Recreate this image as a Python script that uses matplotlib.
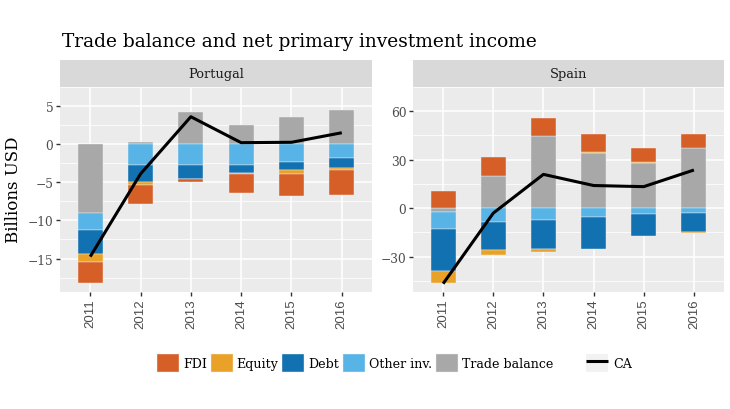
import numpy as np
import matplotlib
matplotlib.use("Agg")
import matplotlib.pyplot as plt
from matplotlib.patches import Patch, Rectangle
from matplotlib.lines import Line2D
from matplotlib.legend_handler import HandlerLine2D

# ---- data (billions USD) ----
years = ["2011", "2012", "2013", "2014", "2015", "2016"]
countries = ["Portugal", "Spain"]
components = ["FDI", "Equity", "Debt", "Other inv.", "Trade balance"]

pt_fdi = [-2.8, -2.5, -0.4, -2.5, -3.0, -3.3]
pt_equity = [-1.05, -0.35, -0.05, -0.15, -0.5, -0.3]
pt_debt = [-3.2, -2.25, -1.85, -1.0, -1.0, -1.25]
pt_other = [-2.2, -2.7, -2.7, -2.75, -2.35, -1.85]
pt_trade = [-9.0, 0.25, 4.25, 2.55, 3.5, 4.5]
pt_ca = [-14.75, -3.9, 3.6, 0.2, 0.25, 1.5]

es_fdi = [10.7, 12.0, 11.4, 11.1, 8.9, 8.5]
es_equity = [-7.4, -2.8, -1.5, 0.7, 0.5, -0.9]
es_debt = [-26.2, -17.7, -17.9, -19.6, -13.8, -11.5]
es_other = [-10.7, -8.5, -7.6, -5.7, -3.7, -3.3]
es_trade = [-2.2, 19.9, 44.5, 34.0, 27.9, 37.3]
es_ca = [-46.8, -3.1, 20.9, 14.0, 13.3, 23.6]

pt_ticks = [-15, -10, -5, 0, 5]
es_ticks = [-30, 0, 30, 60]

COLORS = {"FDI": "#D65F27", "Equity": "#E9A227", "Debt": "#1271B0",
          "Other inv.": "#58B4E6", "Trade balance": "#A8A8A8"}
SERIF = "DejaVu Serif"
SANS = "Liberation Sans"

panels = {
    "Portugal": dict(FDI=pt_fdi, Equity=pt_equity, Debt=pt_debt,
                     other=pt_other, trade=pt_trade, ca=pt_ca, ticks=pt_ticks),
    "Spain": dict(FDI=es_fdi, Equity=es_equity, Debt=es_debt,
                  other=es_other, trade=es_trade, ca=es_ca, ticks=es_ticks),
}


class KeyLine(HandlerLine2D):
    # ggplot-style line key: grey square behind the line
    def create_artists(self, legend, orig, xd, yd, width, height, fontsize, trans):
        bg = Rectangle((-xd, -yd), width, height, facecolor="#F2F2F2",
                       edgecolor="none", transform=trans)
        arts = super().create_artists(legend, orig, xd, yd, width, height, fontsize, trans)
        return [bg] + list(arts)


W, H = 730, 410
fig = plt.figure(figsize=(W / 100, H / 100), dpi=100)
fig.patch.set_facecolor("white")


def frac_box(x0, y0, x1, y1):
    # pixel box (top-left origin) -> figure fraction rect
    return [x0 / W, 1 - y1 / H, (x1 - x0) / W, (y1 - y0) / H]


boxes = {"Portugal": (60, 88, 372, 293), "Spain": (413, 88, 724, 293)}

for name in countries:
    d = panels[name]
    series = {"FDI": d["FDI"], "Equity": d["Equity"], "Debt": d["Debt"],
              "Other inv.": d["other"], "Trade balance": d["trade"]}
    x0, y0, x1, y1 = boxes[name]
    ax = fig.add_axes(frac_box(x0, y0, x1, y1))
    ax.set_facecolor("#EBEBEB")
    xs = np.arange(len(years))

    # stack outward from zero: trade closest, FDI farthest
    pos = np.zeros(len(years))
    neg = np.zeros(len(years))
    for comp in components[::-1]:
        v = np.asarray(series[comp], dtype=float)
        base = np.where(v >= 0, pos, neg)
        ax.bar(xs, v, 0.5, bottom=base, color=COLORS[comp], edgecolor="#f0f0f0",
               linewidth=0.3, zorder=3)
        pos = pos + np.where(v >= 0, v, 0)
        neg = neg + np.where(v < 0, v, 0)
    ca = np.asarray(d["ca"])
    ax.plot(xs, ca, color="black", lw=2.2, zorder=4, solid_capstyle="butt")

    lo = min(neg.min(), ca.min(), 0)
    hi = max(pos.max(), ca.max(), 0)
    pad = 0.05 * (hi - lo)
    ax.set_ylim(lo - pad, hi + pad)
    ax.set_xlim(-0.6, len(years) - 0.4)

    ticks = d["ticks"]
    step = ticks[1] - ticks[0]
    minor = [t + step / 2 for t in [ticks[0] - step] + ticks]
    ax.set_yticks(ticks)
    ax.set_yticks(minor, minor=True)
    ax.set_yticklabels([str(t).replace("-", "\u2212") for t in ticks],
                       family=SERIF, fontsize=8.8, color="#4D4D4D")
    ax.set_xticks(xs)
    ax.set_xticklabels(years, rotation=90, family=SANS, fontsize=9.5, color="#4D4D4D")
    ax.grid(True, which="major", color="white", lw=1.1, zorder=0)
    ax.grid(True, which="minor", axis="y", color="white", lw=0.55, zorder=0)
    ax.set_axisbelow(True)
    ax.tick_params(which="major", length=2.7, width=1.0, color="#333333", pad=2)
    ax.tick_params(which="minor", length=0)
    for s in ax.spines.values():
        s.set_visible(False)

    # facet strip
    sx = fig.add_axes(frac_box(x0, 61, x1, 88))
    sx.set_facecolor("#D9D9D9")
    sx.set_xticks([]); sx.set_yticks([])
    for s in sx.spines.values():
        s.set_visible(False)
    sx.text(0.5, 0.5, name, ha="center", va="center", family=SERIF,
            fontsize=9.4, color="#1A1A1A", transform=sx.transAxes)

fig.text(62 / W, 1 - 47 / H, "Trade balance and net primary investment income",
         family=SERIF, fontsize=13.4, color="black", ha="left", va="baseline")
fig.text(14 / W, 1 - 190 / H, "Billions USD", family=SERIF, fontsize=12,
         rotation=90, ha="center", va="center", color="black")

fill_handles = [Patch(facecolor=COLORS[c], edgecolor="#f0f0f0", lw=0.3) for c in components]
leg1 = fig.legend(fill_handles, components, loc="center", ncol=5,
                  bbox_to_anchor=(355 / W, 1 - 364 / H), frameon=False,
                  prop=dict(family=SERIF, size=9.1), handlelength=1.75, handleheight=1.75,
                  handletextpad=0.3, columnspacing=0.3, borderpad=0)
ca_line = Line2D([], [], color="black", lw=2.2, solid_capstyle="butt")
leg2 = fig.legend([ca_line], ["CA"], loc="center",
                  bbox_to_anchor=(609 / W, 1 - 364 / H), frameon=False,
                  prop=dict(family=SERIF, size=9.1), handlelength=1.75, handleheight=1.75,
                  handletextpad=0.4, borderpad=0,
                  handler_map={ca_line: KeyLine()})

fig.savefig("out.png", dpi=100)
